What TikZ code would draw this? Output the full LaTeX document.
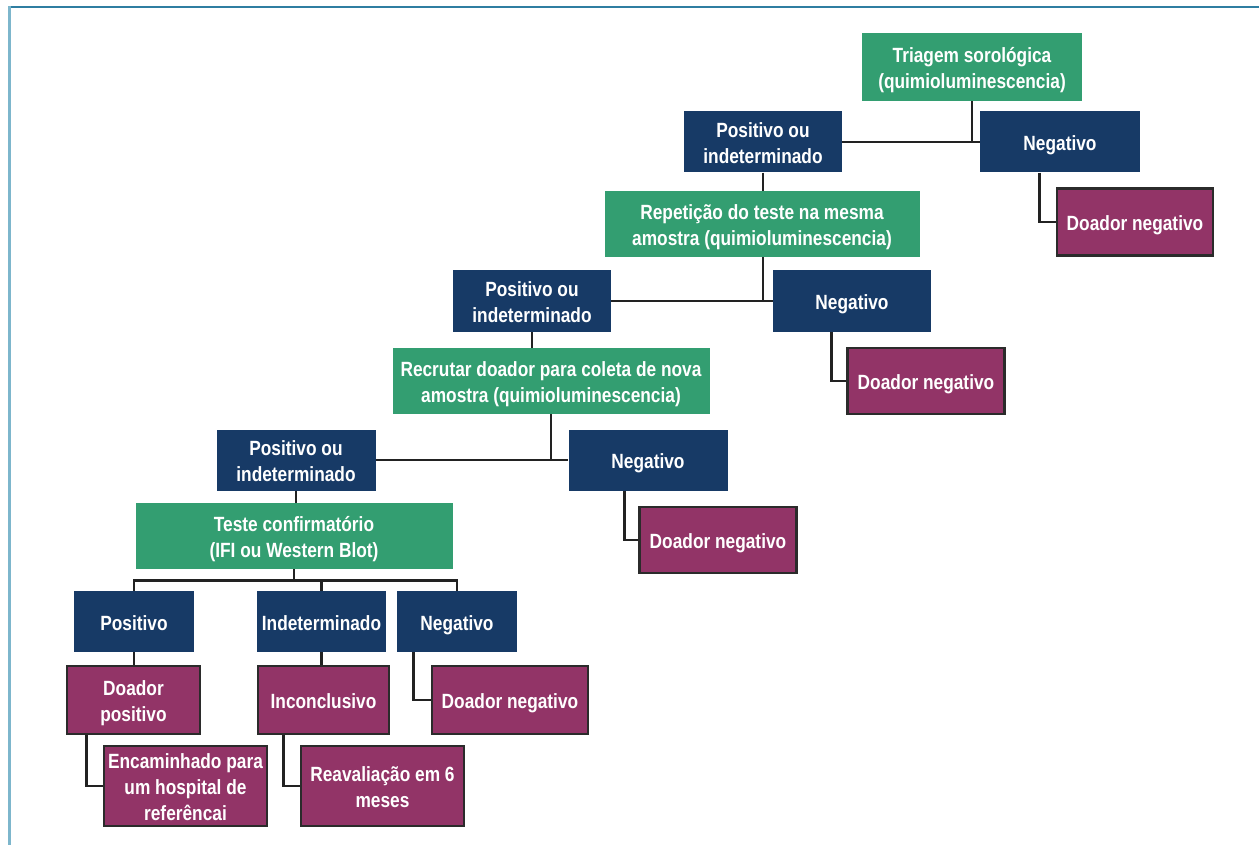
\documentclass[tikz,border=0pt]{standalone}
\usepackage{fontspec}
\setmainfont{Liberation Sans}[FakeStretch=0.84]
\definecolor{gr}{HTML}{339E71}
\definecolor{nv}{HTML}{173A66}
\definecolor{pu}{HTML}{923467}
\definecolor{bd}{HTML}{2B2B2B}
\definecolor{ln}{HTML}{222222}
\definecolor{topl}{HTML}{2F7EA1}
\definecolor{leftl}{HTML}{7DB6CC}
\newcommand\T{\rule{0pt}{22pt}}
\newcommand\B{\rule[-5pt]{0pt}{5pt}}
\tikzset{
  base/.style={text=white, font=\fontsize{20.6}{26}\selectfont\bfseries, align=center, inner sep=0pt},
  grbox/.style={base, fill=gr},
  nvbox/.style={base, fill=nv},
  pubox/.style={base, fill=pu, draw=bd, line width=2.6pt},
  conn/.style={draw=ln, line width=2.8pt},
}
\begin{document}
\begin{tikzpicture}[x=1pt,y=-1pt]
\useasboundingbox (0,0) rectangle (1259,845);
\draw[topl, line width=2.5pt] (8,7) -- (1259,7);
\draw[leftl, line width=3pt] (9.5,6) -- (9.5,845);

% level 1
\node[grbox, minimum width=220pt, minimum height=68pt] (t1) at (972,67) {\T Triagem sorológica\\(quimioluminescencia)\B};
\node[nvbox, minimum width=158pt, minimum height=61pt] (p1) at (763,142) {\T Positivo ou\\indeterminado\B};
\node[nvbox, minimum width=160pt, minimum height=61pt] (n1) at (1060,142) {\T Negativo\B};
\node[pubox, minimum width=156pt, minimum height=67pt] (d1) at (1135,222) {\T Doador negativo\B};
% level 2
\node[grbox, minimum width=315pt, minimum height=66pt] (t2) at (762,224) {\T Repetição do teste na mesma\\amostra (quimioluminescencia)\B};
\node[nvbox, minimum width=158pt, minimum height=62pt] (p2) at (532,301) {\T Positivo ou\\indeterminado\B};
\node[nvbox, minimum width=158pt, minimum height=62pt] (n2) at (852,301) {\T Negativo\B};
\node[pubox, minimum width=157pt, minimum height=66pt] (d2) at (926,381) {\T Doador negativo\B};
% level 3
\node[grbox, minimum width=317pt, minimum height=66pt] (t3) at (551,381) {\T Recrutar doador para coleta de nova\\amostra (quimioluminescencia)\B};
\node[nvbox, minimum width=159pt, minimum height=61pt] (p3) at (296,460) {\T Positivo ou\\indeterminado\B};
\node[nvbox, minimum width=159pt, minimum height=61pt] (n3) at (648,460) {\T Negativo\B};
\node[pubox, minimum width=157pt, minimum height=66pt] (d3) at (718,540) {\T Doador negativo\B};
% level 4
\node[grbox, minimum width=317pt, minimum height=66pt] (t4) at (294,536) {\T Teste confirmatório\\(IFI ou Western Blot)\B};
\node[nvbox, minimum width=120pt, minimum height=61pt] (pp) at (134,621.5) {\T Positivo\B};
\node[nvbox, minimum width=129pt, minimum height=61pt] (ii) at (321.5,621.5) {\T Indeterminado\B};
\node[nvbox, minimum width=120pt, minimum height=61pt] (nn) at (457,621.5) {\T Negativo\B};
\node[pubox, minimum width=133pt, minimum height=68pt] (dp) at (133.5,700) {\T Doador\\positivo\B};
\node[pubox, minimum width=131pt, minimum height=68pt] (ic) at (323.5,700) {\T Inconclusivo\B};
\node[pubox, minimum width=156pt, minimum height=68pt] (d4) at (510,700) {\T Doador negativo\B};
\node[pubox, minimum width=163pt, minimum height=80pt] (en) at (185.5,786) {\T Encaminhado para\\um hospital de\\referêncai\B};
\node[pubox, minimum width=163pt, minimum height=80pt] (re) at (382.5,786) {\T Reavaliação em 6\\meses\B};

% connectors
\draw[conn] (p1.east) -- (n1.west);
\draw[conn] (t1.south) -- (t1.south |- p1.east);
\draw[conn] (n1.south west) ++(60,0) |- (d1.west);
\draw[conn] (p1.south) -- (t2.north -| p1.south);

\draw[conn] (p2.east) -- (n2.west);
\draw[conn] (t2.south -| p1.south) -- (p1.south |- p2.east);
\draw[conn] (n2.south west) ++(59,0) |- (d2.west);
\draw[conn] (p2.south) -- (t3.north -| p2.south);

\draw[conn] (p3.east) -- (n3.west);
\draw[conn] (t3.south) -- (t3.south |- p3.east);
\draw[conn] (n3.south west) ++(56,0) |- (d3.west);
\draw[conn] (p3.south) -- (t4.north -| p3.south);

\draw[conn] (t4.south) -- ++(0,11) coordinate (fan);
\draw[conn] (pp.north) |- (fan) -| (nn.north);
\draw[conn] (ii.north) -- (ii.north |- fan);
\draw[conn] (pp.south) -- (dp.north -| pp.south);
\draw[conn] (ii.south) -- (ic.north -| ii.south);
\draw[conn] (nn.south west) ++(17,0) |- (d4.west);
\draw[conn] (dp.south west) ++(21,0) |- (en.west);
\draw[conn] (ic.south west) ++(27,0) |- (re.west);
\end{tikzpicture}
\end{document}
